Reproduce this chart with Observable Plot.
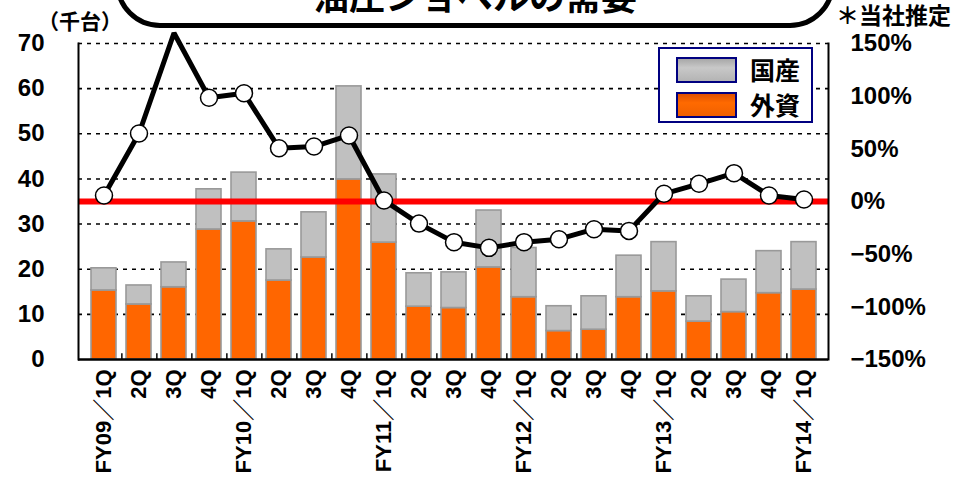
<!DOCTYPE html>
<html><head><meta charset="utf-8">
<script src="https://cdn.jsdelivr.net/npm/d3@7"></script>
<script src="https://cdn.jsdelivr.net/npm/@observablehq/plot@0.6"></script>
<style>
html,body{margin:0;padding:0;background:#fff}
body{width:965px;height:484px;overflow:hidden;position:relative;font-family:"Liberation Sans","Noto Sans CJK JP",sans-serif;font-weight:bold}
#chart{position:absolute;left:0;top:0}
.ov{position:absolute;font-family:"Noto Sans CJK JP","Liberation Sans",sans-serif;font-weight:bold;color:#000;white-space:nowrap}
#titlebox{position:absolute;left:115px;top:-70px;width:710px;height:88px;border:5px solid #000;border-radius:0 0 45px 45px;background:#fff}
#title{left:115px;width:720px;top:-24px;text-align:center;font-size:36px;line-height:36px}
#unit{left:38px;top:6px;font-size:21px;line-height:28px}
#note{left:836px;top:0px;font-size:23px;line-height:28px}
#legend{position:absolute;left:658px;top:47px;width:151px;height:72px;border:2px solid #000080;background:#fff}
.sw{position:absolute;left:16px;width:57px;height:22px;border:2px solid #000080}
.lt{position:absolute;left:90px;font-size:25px;line-height:26px;font-family:"Noto Sans CJK JP",sans-serif;font-weight:bold}
</style></head><body>
<div id="chart"></div>
<div id="titlebox"></div>
<div class="ov" id="title">油圧ショベルの需要</div>
<div class="ov" id="unit">（千台）</div>
<div class="ov" id="note">＊当社推定</div>
<div id="legend">
  <div class="sw" style="top:8px;background:linear-gradient(#a8a8a8,#c8c8c8 40%,#b4b4b4)"></div>
  <div class="lt" id="lt1" style="top:7px"></div>
  <div class="sw" style="top:43px;background:linear-gradient(#e05000,#ff6a00 40%,#f06000)"></div>
  <div class="lt" id="lt2" style="top:42px"></div>
</div>
<script>
// ---- data ----
const quarters = ["FY09 1Q","FY09 2Q","FY09 3Q","FY09 4Q","FY10 1Q","FY10 2Q","FY10 3Q","FY10 4Q","FY11 1Q","FY11 2Q","FY11 3Q","FY11 4Q","FY12 1Q","FY12 2Q","FY12 3Q","FY12 4Q","FY13 1Q","FY13 2Q","FY13 3Q","FY13 4Q","FY14 1Q"];
const tickLabels = ["FY09／1Q","2Q","3Q","4Q","FY10／1Q","2Q","3Q","4Q","FY11／1Q","2Q","3Q","4Q","FY12／1Q","2Q","3Q","4Q","FY13／1Q","2Q","3Q","4Q","FY14／1Q"];
const seriesNames = ["国産","外資"];
// 外資 (foreign), thousand units
const foreign = [15.3,12.2,16.0,28.8,30.6,17.5,22.6,39.9,25.9,11.7,11.4,20.4,13.8,6.3,6.6,13.8,15.1,8.4,10.5,14.7,15.5];
// 国産 (domestic), thousand units
const domestic = [4.9,4.2,5.5,8.9,10.8,6.9,10.0,20.6,15.1,7.4,7.9,12.6,10.9,5.5,7.4,9.2,10.9,5.6,7.2,9.3,10.5];
// year-on-year change, %
const growth = [5.7,64.6,160,98.5,102.8,50.6,52.2,62.7,1.0,-21,-38.6,-44,-38.6,-35.8,-26.3,-27.9,7.3,16.8,26.9,5.7,1.9];
const leftTicks = [0,10,20,30,40,50,60,70];
const rightTicks = [-150,-100,-50,0,50,100,150];

document.getElementById("lt1").textContent = seriesNames[0];
document.getElementById("lt2").textContent = seriesNames[1];

const yMax = 70, pMin = -150, pMax = 150;
const pctToY = p => (p - pMin) / (pMax - pMin) * yMax;
const yToPct = y => Math.round(y / yMax * (pMax - pMin) + pMin);
const fmtPct = p => (p < 0 ? "−" + (-p) : "" + p) + "%";

const rows = quarters.map((q, i) => ({q, foreign: foreign[i], domestic: domestic[i], total: foreign[i] + domestic[i], g: growth[i]}));

const ff = "Liberation Sans, Noto Sans CJK JP, sans-serif";
const chart = Plot.plot({
  width: 965, height: 484,
  marginLeft: 78, marginRight: 137, marginTop: 43, marginBottom: 125,
  style: {fontFamily: ff, fontWeight: "bold", color: "#000", background: "transparent", overflow: "visible"},
  x: {domain: quarters, paddingInner: 0.3, paddingOuter: 0.15, label: null},
  y: {domain: [0, yMax], label: null},
  marks: [
    Plot.ruleY(leftTicks.filter(d => d > 0), {stroke: "#000", strokeWidth: 1.6, strokeDasharray: "4,5"}),
    Plot.barY(rows, {x: "q", y1: 0, y2: "foreign", fill: "#FF6600", stroke: "#999999", strokeWidth: 1.6}),
    Plot.barY(rows, {x: "q", y1: "foreign", y2: "total", fill: "#C0C0C0", stroke: "#999999", strokeWidth: 1.6}),
    Plot.ruleY([pctToY(0)], {stroke: "#FF0000", strokeWidth: 6}),
    Plot.ruleX(quarters.slice(0, -1), {x: d => d, y1: 0, y2: 1.3, dx: 17.86, stroke: "#000", strokeWidth: 1.5}),
    Plot.frame({anchor: "left", stroke: "#000", strokeWidth: 2}),
    Plot.frame({anchor: "right", stroke: "#000", strokeWidth: 2}),
    Plot.ruleY([0], {stroke: "#000", strokeWidth: 2.5}),
    Plot.axisY(leftTicks, {anchor: "left", tickSize: 0, tickPadding: 34, fontSize: 24, fontWeight: "bold", label: null}),
    Plot.axisY(rightTicks.map(pctToY), {anchor: "right", tickSize: 0, tickPadding: 22, fontSize: 24, fontWeight: "bold", label: null, tickFormat: d => fmtPct(yToPct(d))}),
    Plot.axisX({tickRotate: -90, tickSize: 0, tickPadding: 10, fontSize: 22, fontWeight: "bold", label: null, tickFormat: d => tickLabels[quarters.indexOf(d)]}),
    Plot.line(rows, {x: "q", y: d => pctToY(d.g), stroke: "#000", strokeWidth: 5, strokeLinejoin: "miter"}),
    Plot.dot(rows.filter(d => d.g <= pMax), {x: "q", y: d => pctToY(d.g), r: 8.5, fill: "#fff", stroke: "#000", strokeWidth: 1.5})
  ]
});
document.getElementById("chart").appendChild(chart);
</script>
</body></html>
